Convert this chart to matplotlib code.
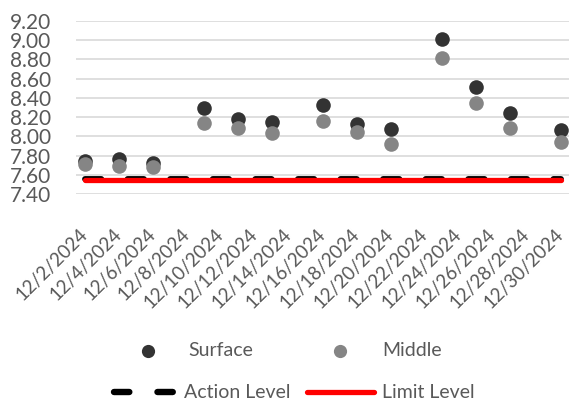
import matplotlib
matplotlib.use("Agg")
import matplotlib.pyplot as plt
from matplotlib.lines import Line2D

# ---- data ----
days = [2, 4, 6, 9, 11, 13, 16, 18, 20, 23, 25, 27, 30]   # day of December 2024
surface = [7.74, 7.76, 7.72, 8.30, 8.18, 8.15, 8.33, 8.13, 8.08, 9.01, 8.51, 8.24, 8.07]
middle = [7.71, 7.69, 7.68, 8.14, 8.09, 8.03, 8.16, 8.04, 7.92, 8.81, 8.35, 8.09, 7.94]
action_level = [7.56] * len(days)
limit_level = [7.55] * len(days)
tick_days = [2, 4, 6, 8, 10, 12, 14, 16, 18, 20, 22, 24, 26, 28, 30]
tick_labels = ["12/%d/2024" % d for d in tick_days]
y_ticks = [7.40, 7.60, 7.80, 8.00, 8.20, 8.40, 8.60, 8.80, 9.00, 9.20]

TXT = "#595959"
plt.rcParams['font.family'] = ['Lato', 'DejaVu Sans']
W, H = 569, 407

fig = plt.figure(figsize=(W/100, H/100), dpi=100)
ax = fig.add_axes([76/W, 1 - 194/H, 1 - 76/W, (194 - 21)/H])

act_style = dict(color="black", lw=4.2, dashes=(2.8, 4.5),
                 dash_capstyle="round", solid_capstyle="round")
lim_style = dict(color="#FF0000", lw=3.8, solid_capstyle="round")
sur_style = dict(linestyle="none", marker="o", ms=10.5, color="#333333", mec="none")
mid_style = dict(linestyle="none", marker="o", ms=10.5, color="#858585", mec="none")

ax.plot(days, action_level, zorder=3, **act_style)
ax.plot(days, limit_level, zorder=4, **lim_style)
ax.plot(days, surface, zorder=5, **sur_style)
ax.plot(days, middle, zorder=6, **mid_style)

ax.set_xlim(1.5, 30.5)
ax.set_ylim(7.4, 9.2)
ax.set_yticks(y_ticks)
ax.set_yticklabels(["%.2f" % v for v in y_ticks], fontsize=15, color=TXT)
ax.set_xticks(tick_days)
ax.set_xticklabels(tick_labels, fontsize=13.5, color=TXT, rotation=45,
                   ha="right", va="center", rotation_mode="anchor")
ax.tick_params(axis="both", length=0)
ax.tick_params(axis="x", pad=27)
ax.tick_params(axis="y", pad=18)
ax.grid(axis="y", color="#D9D9D9", lw=1.2)
ax.set_axisbelow(True)
for s in ax.spines.values():
    s.set_visible(False)

# ---- legend (two rows, drawn in figure pixel coordinates) ----
def fx(px): return px / W
def fy(py): return 1 - py / H

def leg_line(x0, x1, y, style):
    fig.add_artist(Line2D([fx(x0), fx(x1)], [fy(y), fy(y)], transform=fig.transFigure, **style))

def leg_marker(x, y, style):
    st = dict(style); st["ms"] = 9.5
    fig.add_artist(Line2D([fx(x)], [fy(y)], transform=fig.transFigure, **st))

def leg_text(x, y, s):
    fig.text(fx(x), fy(y), s, fontsize=14, color=TXT, ha="left", va="center")

leg_marker(148, 351, sur_style); leg_text(188, 351, "Surface")
leg_marker(340, 351, mid_style); leg_text(382, 351, "Middle")
leg_line(114, 173, 392, dict(act_style, lw=4.6, dashes=(2.4, 4.4)))
leg_text(184, 392, "Action Level")
leg_line(307, 374, 392, lim_style); leg_text(382, 392, "Limit Level")

fig.savefig("out.png", dpi=100)
